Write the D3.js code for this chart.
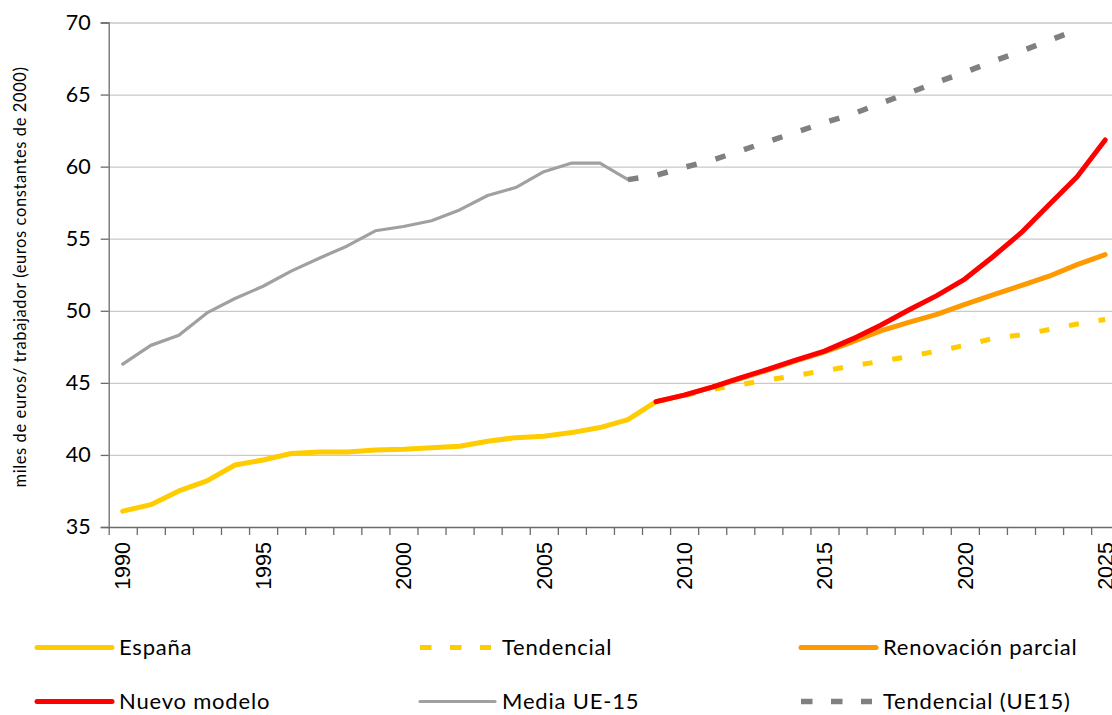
<!DOCTYPE html>
<html>
<head>
<meta charset="utf-8">
<script src="https://cdn.jsdelivr.net/npm/d3@7/dist/d3.min.js"></script>
<style>
  body { margin: 0; background: #fff; }
  svg { display: block; font-family: Lato, "Open Sans", sans-serif; }
</style>
</head>
<body>
<svg id="chart"></svg>
<script>
// 1) Data (miles de euros por trabajador)
const years = d3.range(1990, 2026)
const yTicks = [35, 40, 45, 50, 55, 60, 65, 70]
const labelYears = [1990, 1995, 2000, 2005, 2010, 2015, 2020, 2025]

const espanaStart = 1990
const espana = [36.1, 36.55, 37.5, 38.2, 39.3, 39.65, 40.1, 40.2, 40.2, 40.35,
  40.4, 40.5, 40.6, 40.95, 41.2, 41.3, 41.55, 41.9, 42.45, 43.7]

const tendencialStart = 2009
const tendencial = [43.7, 44.12, 44.55, 44.88, 45.2, 45.52, 45.85, 46.17, 46.5,
  46.82, 47.2, 47.6, 48.08, 48.33, 48.7, 49.08, 49.4]

const renovacionStart = 2009
const renovacion = [43.7, 44.15, 44.7, 45.3, 45.9, 46.55, 47.15, 47.85, 48.6,
  49.2, 49.75, 50.45, 51.1, 51.75, 52.4, 53.2, 53.9]

const nuevoStart = 2009
const nuevo = [43.7, 44.15, 44.7, 45.35, 45.95, 46.6, 47.2, 48.05, 49.0, 50.05,
  51.05, 52.2, 53.75, 55.4, 57.35, 59.3, 61.85]

const mediaStart = 1990
const media = [46.3, 47.6, 48.3, 49.85, 50.85, 51.7, 52.75, 53.65, 54.5, 55.55,
  55.85, 56.25, 57.0, 58.0, 58.55, 59.65, 60.25, 60.25, 59.1]

const tendUEStart = 2008
const tendUE = [59.1, 59.4, 59.95, 60.45, 61.1, 61.75, 62.4, 63.05, 63.65, 64.4,
  65.1, 65.85, 66.55, 67.3, 68.0, 68.75, 69.5]

const seriesNames = ["España", "Tendencial", "Renovación parcial",
  "Nuevo modelo", "Media UE-15", "Tendencial (UE15)"]

const toPoints = (start, values) =>
  values.map((v, i) => ({ year: start + i, value: v }))

const series = [
  { name: seriesNames[0], points: toPoints(espanaStart, espana), color: "#ffcc00", width: 5, dash: null },
  { name: seriesNames[1], points: toPoints(tendencialStart, tendencial), color: "#ffcc00", width: 5, dash: "10,20" },
  { name: seriesNames[2], points: toPoints(renovacionStart, renovacion), color: "#ff9900", width: 5, dash: null },
  { name: seriesNames[3], points: toPoints(nuevoStart, nuevo), color: "#ff0000", width: 5, dash: null },
  { name: seriesNames[4], points: toPoints(mediaStart, media), color: "#a0a0a0", width: 3.2, dash: null },
  { name: seriesNames[5], points: toPoints(tendUEStart, tendUE), color: "#808080", width: 5.5, dash: "10.5,19.5" },
]

// 2) Dimensions
const dimensions = {
  width: 1112,
  height: 715,
  margin: { top: 22.5, left: 108.7 },
  yearWidth: 28.07,
  boundedHeight: 504.5,
}
dimensions.boundedWidth = dimensions.yearWidth * years.length

// 3) Canvas
const wrapper = d3
  .select("#chart")
  .attr("width", dimensions.width)
  .attr("height", dimensions.height)

const bounds = wrapper
  .append("g")
  .attr("transform", `translate(${dimensions.margin.left},${dimensions.margin.top})`)

// 4) Scales
const xScale = d3
  .scaleLinear()
  .domain([years[0] - 0.5, years[years.length - 1] + 0.5])
  .range([0, dimensions.boundedWidth])

const yScale = d3
  .scaleLinear()
  .domain([35, 70])
  .range([dimensions.boundedHeight, 0])

// 5) Grid + axes
const grid = bounds
  .append("g")
  .call(
    d3.axisLeft(yScale)
      .tickValues(yTicks.slice(1))
      .tickSize(-dimensions.boundedWidth)
      .tickFormat("")
  )
grid.select(".domain").remove()
grid.selectAll("line").attr("stroke", "#c9c9c9").attr("stroke-width", 1.3)

const yAxis = bounds
  .append("g")
  .call(d3.axisLeft(yScale).tickValues(yTicks).tickSize(8).tickPadding(10))
yAxis.select(".domain").attr("stroke", "#6b6b6b").attr("stroke-width", 1.3)
yAxis.selectAll("line").attr("stroke", "#6b6b6b").attr("stroke-width", 1.3)
yAxis.selectAll("text")
  .attr("font-family", "Lato, sans-serif")
  .attr("font-size", 21.5)
  .attr("fill", "#000")

const xAxis = bounds
  .append("g")
  .attr("transform", `translate(0,${dimensions.boundedHeight})`)
  .call(
    d3.axisBottom(xScale)
      .tickValues(d3.range(years[0] - 0.5, years[years.length - 1] + 1, 1))
      .tickSize(8)
      .tickSizeOuter(0)
      .tickFormat("")
  )
xAxis.select(".domain").attr("stroke", "#6b6b6b").attr("stroke-width", 1.3)
xAxis.selectAll("line").attr("stroke", "#6b6b6b").attr("stroke-width", 1.3)

xAxis.selectAll(".year-label")
  .data(labelYears)
  .join("text")
  .attr("class", "year-label")
  .attr("transform", (d) => `translate(${xScale(d)},15) rotate(-90)`)
  .attr("text-anchor", "end")
  .attr("dy", "0.36em")
  .attr("font-size", 21.5)
  .attr("fill", "#000")
  .text((d) => d)

// 6) Lines
const lineGenerator = d3
  .line()
  .x((d) => xScale(d.year))
  .y((d) => yScale(d.value))

bounds
  .append("g")
  .selectAll("path")
  .data(series)
  .join("path")
  .attr("d", (d) => lineGenerator(d.points))
  .attr("fill", "none")
  .attr("stroke", (d) => d.color)
  .attr("stroke-width", (d) => d.width)
  .attr("stroke-linejoin", "round")
  .attr("stroke-linecap", (d) => (d.dash ? "butt" : "round"))
  .attr("stroke-dasharray", (d) => d.dash)

// 7) Axis title
wrapper
  .append("text")
  .attr("transform", "translate(20,277) rotate(-90)")
  .attr("text-anchor", "middle")
  .attr("dy", "0.35em")
  .attr("font-size", 16.5)
  .attr("letter-spacing", 0.6)
  .attr("fill", "#000")
  .text("miles de euros/ trabajador (euros constantes de 2000)")

// 8) Legend
const legendOrder = [0, 1, 2, 3, 4, 5]
const legendCols = [37, 420, 801]
const legendRows = [647.5, 701.5]

const legend = wrapper
  .append("g")
  .selectAll("g")
  .data(legendOrder.map((i) => series[i]))
  .join("g")
  .attr("transform", (d, i) => `translate(${legendCols[i % 3]},${legendRows[Math.floor(i / 3)]})`)

legend
  .append("line")
  .attr("x1", 0)
  .attr("x2", (d) => (d.dash ? 71 : 75))
  .attr("stroke", (d) => d.color)
  .attr("stroke-width", (d) => d.width)
  .attr("stroke-linecap", (d) => (d.dash ? "butt" : "round"))
  .attr("stroke-dasharray", (d) => (d.dash ? "11.5,18.5" : null))

legend
  .append("text")
  .attr("x", 82)
  .attr("dy", "0.36em")
  .attr("font-size", 22)
  .attr("letter-spacing", 0.8)
  .attr("fill", "#000")
  .text((d) => d.name)
</script>
</body>
</html>
